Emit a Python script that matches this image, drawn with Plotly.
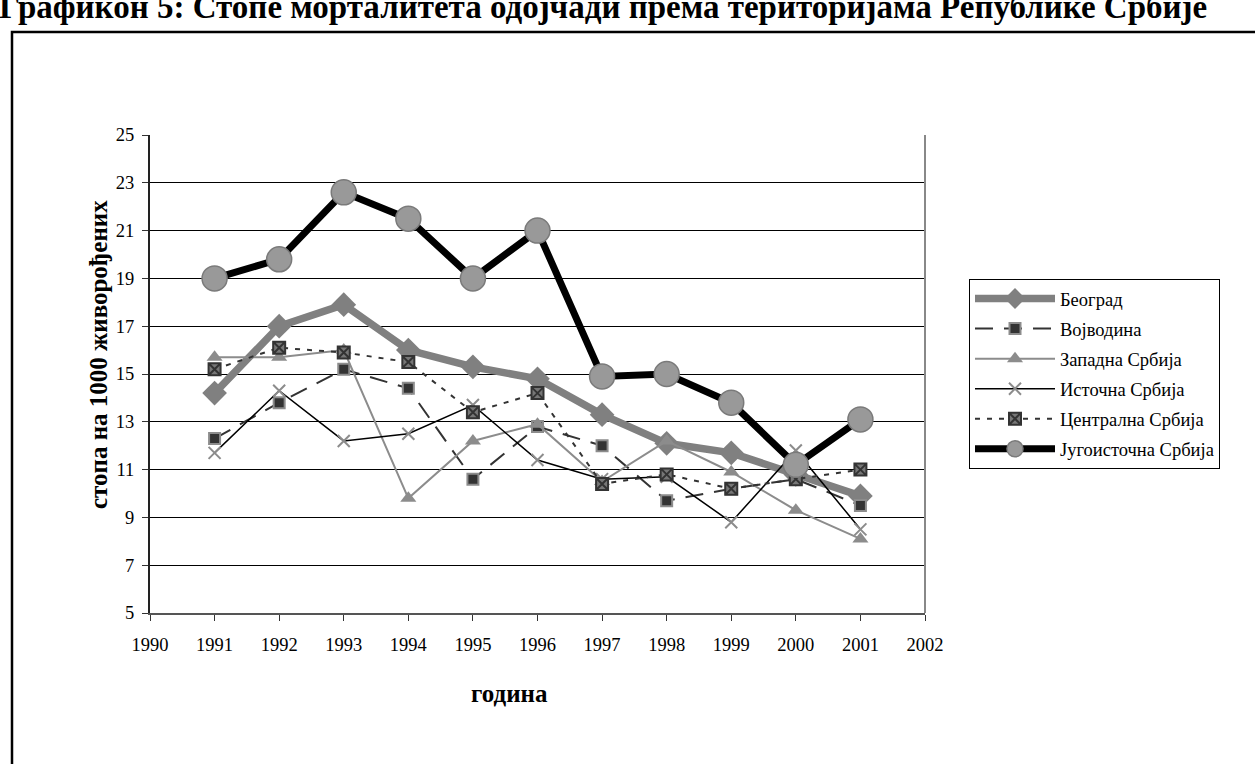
import plotly.graph_objects as go

years = [1991, 1992, 1993, 1994, 1995, 1996, 1997, 1998, 1999, 2000, 2001]

beograd = [14.2, 17.0, 17.9, 16.0, 15.3, 14.8, 13.3, 12.1, 11.7, 10.8, 9.9]
vojvodina = [12.3, 13.8, 15.2, 14.4, 10.6, 12.8, 12.0, 9.7, 10.2, 10.6, 9.5]
zapadna = [15.7, 15.7, 16.0, 9.8, 12.2, 12.9, 10.5, 12.2, 10.9, 9.3, 8.1]
istocna = [11.7, 14.3, 12.2, 12.5, 13.7, 11.4, 10.6, 10.7, 8.8, 11.8, 8.5]
centralna = [15.2, 16.1, 15.9, 15.5, 13.4, 14.2, 10.4, 10.8, 10.2, 10.6, 11.0]
jugoistocna = [19.0, 19.8, 22.6, 21.5, 19.0, 21.0, 14.9, 15.0, 13.8, 11.2, 13.1]

FONT = "Liberation Serif"

# plot area in pixels: x 150..925, y 135..613
L, R, T, B = 150, 925, 135, 613


def px(x):
    return (x - L) / (R - L)


def py(y):
    return (B - y) / (B - T)


fig = go.Figure()

fig.add_trace(go.Scatter(
    x=years, y=beograd, name="Београд", mode="lines+markers", legendgroup="a",
    line=dict(color="#808080", width=7.5),
    marker=dict(symbol="diamond", size=19, color="#808080", line=dict(width=0)),
))
fig.add_trace(go.Scatter(
    x=years, y=vojvodina, name="Војводина", mode="lines+markers", legendgroup="b",
    line=dict(color="#333333", width=2, dash="18px,11px"),
    marker=dict(symbol="square", size=11, color="#333333", line=dict(color="#8c8c8c", width=2)),
))
fig.add_trace(go.Scatter(
    x=years, y=zapadna, name="Западна Србија", mode="lines+markers", legendgroup="c",
    line=dict(color="#8c8c8c", width=2),
    marker=dict(symbol="triangle-up", size=14, color="#8c8c8c", line=dict(width=0)),
))
fig.add_trace(go.Scatter(
    x=years, y=istocna, name="Источна Србија", mode="lines+markers", legendgroup="d",
    line=dict(color="black", width=1.5),
    marker=dict(symbol="x-thin-open", size=12, color="#8c8c8c", line=dict(color="#8c8c8c", width=2)),
))
fig.add_trace(go.Scatter(
    x=years, y=centralna, name="Централна Србија", mode="lines+markers", legendgroup="e",
    line=dict(color="#333333", width=2, dash="5px,7px"),
    marker=dict(symbol="square-x", size=12, color="#777777", line=dict(color="#333333", width=2)),
))
fig.add_trace(go.Scatter(
    x=years, y=jugoistocna, name="Југоисточна Србија", mode="lines+markers", legendgroup="f",
    line=dict(color="black", width=7),
    marker=dict(symbol="circle", size=25, color="#999999", line=dict(color="#7a7a7a", width=1.5)),
))

fig.update_xaxes(
    range=[1990, 2002], tickmode="linear", dtick=1, tick0=1990,
    showgrid=False, zeroline=False, showline=True, linecolor="#555555", linewidth=2,
    ticks="outside", ticklen=6, tickcolor="#333333",
    tickfont=dict(family=FONT, size=18.5, color="black"), ticklabelstandoff=8,
)
fig.update_yaxes(
    range=[5, 25], tickmode="linear", dtick=2, tick0=5,
    showgrid=True, gridcolor="black", gridwidth=1, zeroline=False,
    showline=True, linecolor="#222222", linewidth=2,
    ticks="outside", ticklen=6, tickcolor="#333333",
    tickfont=dict(family=FONT, size=18.5, color="black"), ticklabelstandoff=4,
)

# right edge of the plot area
fig.add_shape(type="line", xref="paper", yref="paper", x0=1, x1=1, y0=0, y1=1,
              line=dict(color="#888888", width=2))
# outer frame (runs off the page on right and bottom)
fig.add_shape(type="rect", xref="paper", yref="paper",
              x0=px(12), x1=px(1300), y0=py(820), y1=py(32),
              line=dict(color="black", width=2.5), fillcolor="rgba(0,0,0,0)", layer="below")

fig.add_annotation(text="Графикон 5: Стопе морталитета одојчади према територијама Републике Србије",
                   xref="paper", yref="paper", x=px(-3), y=py(7), xanchor="left", yanchor="middle",
                   showarrow=False, font=dict(family=FONT, size=33, color="black", weight="bold"))
fig.add_annotation(text="стопа на 1000 живорођених", textangle=-90,
                   xref="paper", yref="paper", x=px(98), y=py(355), xanchor="center", yanchor="middle",
                   showarrow=False, font=dict(family=FONT, size=25, color="black", weight="bold"))
fig.add_annotation(text="година",
                   xref="paper", yref="paper", x=px(509), y=py(693), xanchor="center", yanchor="middle",
                   showarrow=False, font=dict(family=FONT, size=25, color="black", weight="bold"))

fig.update_layout(
    width=1255, height=764,
    margin=dict(l=L, r=1255 - R, t=T, b=764 - B),
    paper_bgcolor="white", plot_bgcolor="white",
    showlegend=True,
    legend=dict(
        x=px(969), y=py(279), xanchor="left", yanchor="top",
        bgcolor="white", bordercolor="black", borderwidth=1,
        font=dict(family=FONT, size=18.5, color="black"),
        itemwidth=80, tracegroupgap=3, itemclick=False,
    ),
)

fig.write_html("out.html", config={"displayModeBar": False},
               post_script="document.body.style.margin='0px';")
